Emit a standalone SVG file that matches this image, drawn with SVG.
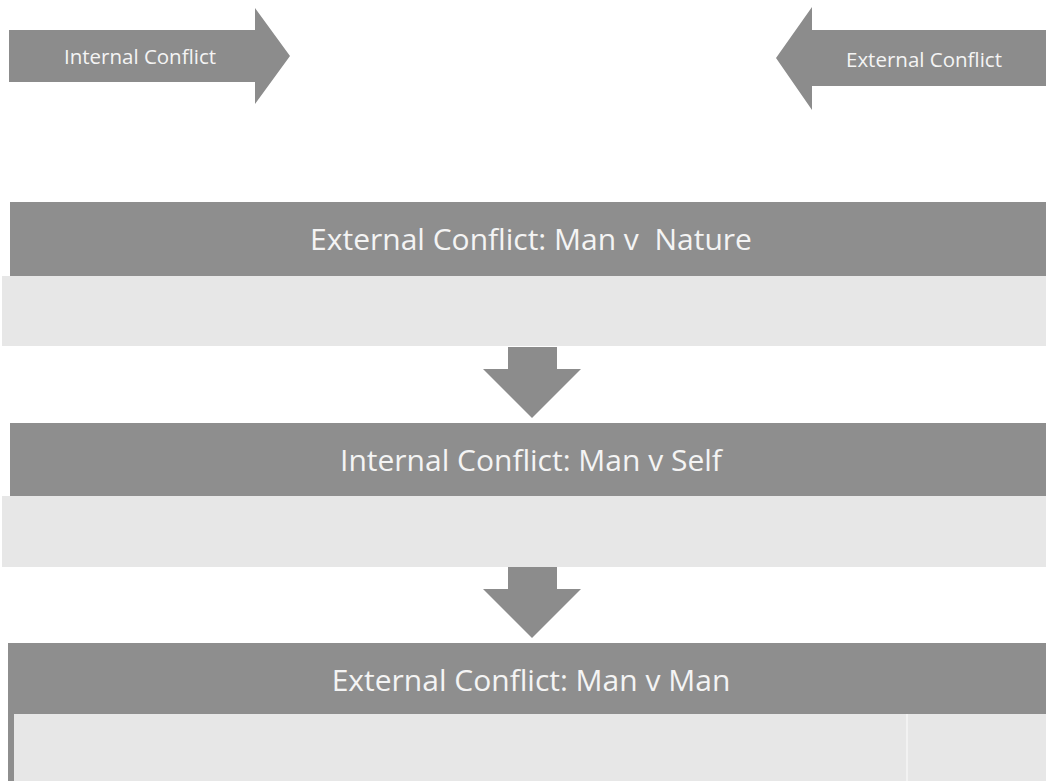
<svg xmlns="http://www.w3.org/2000/svg" width="1046" height="781" viewBox="0 0 1046 781">
<style>
.dark{fill:#8e8e8e}
.light{fill:#e7e7e7}
.arrow{fill:#8c8c8c}
.t{font-family:"Open Sans","Liberation Sans",sans-serif;fill:#f4f4f4;text-anchor:middle;white-space:pre}
.small{font-size:20.5px}
.big{font-size:30px}
</style>
<rect width="1046" height="781" fill="#ffffff"/>
<g id="internal-arrow">
<polygon class="arrow" points="9,30 255,30 255,8 290,56 255,104 255,82 9,82"/>
<text class="t small" x="140" y="64">Internal Conflict</text>
</g>
<g id="external-arrow">
<polygon class="arrow" points="1046,30 812,30 812,7 776,58 812,110 812,86 1046,86"/>
<text class="t small" x="924" y="67">External Conflict</text>
</g>
<g id="band-nature">
<rect class="light" x="2" y="276" width="1044" height="70"/>
<rect class="dark" x="10" y="202" width="1036" height="74"/>
<text class="t big" x="531" y="250" xml:space="preserve">External Conflict: Man v  Nature</text>
</g>
<g id="band-self">
<rect class="light" x="2" y="496" width="1044" height="71"/>
<rect class="dark" x="10" y="423" width="1036" height="73"/>
<text class="t big" x="531" y="471">Internal Conflict: Man v Self</text>
</g>
<g id="band-man">
<rect class="dark" x="8" y="643" width="1038" height="138"/>
<rect class="light" x="14" y="714" width="1032" height="67"/>
<line x1="907" y1="714" x2="907" y2="781" stroke="#f2f2f2" stroke-width="2"/>
<text class="t big" x="531" y="691">External Conflict: Man v Man</text>
</g>
<g id="connectors">
<polygon class="arrow" points="508,347 557,347 557,369 581,369 532,418 483,369 508,369"/>
<polygon class="arrow" points="508,567 557,567 557,589 581,589 532,638 483,589 508,589"/>
</g>
</svg>
